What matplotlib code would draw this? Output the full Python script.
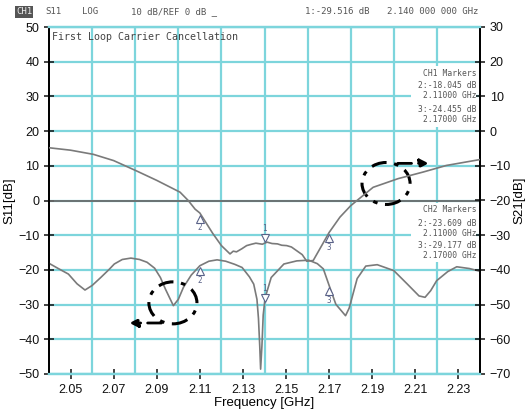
import matplotlib
matplotlib.use("Agg")
import matplotlib.pyplot as plt
import numpy as np
from matplotlib.patches import Ellipse, Rectangle
from matplotlib import transforms

# S11 trace (CH1, left axis)
F_S11 = [2.040, 2.044, 2.049, 2.053, 2.0567, 2.060, 2.064, 2.068, 2.0703, 2.074,
         2.078, 2.082, 2.0855, 2.089, 2.0917, 2.094, 2.0977, 2.100, 2.1024, 2.106,
         2.110, 2.1142, 2.118, 2.122, 2.1262, 2.1296, 2.133, 2.135, 2.1365, 2.1372,
         2.1378, 2.1382, 2.1388, 2.1394, 2.1403, 2.1431, 2.149, 2.155, 2.1605, 2.1645,
         2.1673, 2.170, 2.1731, 2.1776, 2.1793, 2.183, 2.187, 2.1923, 2.200, 2.2063,
         2.2117, 2.2145, 2.2171, 2.2199, 2.225, 2.2292, 2.235, 2.240]
S11 = [-18.1, -19.5, -21.2, -24.0, -25.8, -24.5, -22.2, -19.8, -18.3, -17.0,
       -16.6, -17.0, -17.8, -19.5, -22.2, -25.5, -30.3, -28.5, -25.0, -21.5,
       -18.8, -17.5, -17.1, -17.5, -18.4, -19.3, -22.0, -24.1, -28.5, -34.0,
       -42.0, -48.6, -42.0, -33.0, -28.0, -22.2, -18.3, -17.4, -17.2, -18.2,
       -19.7, -24.5, -29.9, -33.2, -31.0, -22.5, -18.9, -18.5, -20.2, -24.1,
       -27.5, -27.9, -26.0, -23.1, -20.5, -19.1, -19.6, -20.4]

# S21 trace (CH2, right axis)
F_S21 = [2.040, 2.050, 2.0606, 2.070, 2.0807, 2.090, 2.1008, 2.1046, 2.1078, 2.110,
         2.116, 2.120, 2.1240, 2.1255, 2.1270, 2.1295, 2.1317, 2.134, 2.1360, 2.139,
         2.1412, 2.1435, 2.1460, 2.148, 2.1503, 2.1525, 2.155, 2.1575, 2.1596, 2.1626,
         2.167, 2.170, 2.1750, 2.1800, 2.1843, 2.1904, 2.2020, 2.2136, 2.2244, 2.240]
S21 = [-4.8, -5.5, -6.7, -8.5, -11.5, -14.2, -17.6, -20.0, -22.5, -23.6,
       -29.5, -33.0, -35.4, -34.6, -34.8, -33.9, -33.0, -32.6, -32.3, -32.6,
       -32.0, -32.4, -32.5, -32.9, -33.0, -33.4, -34.5, -35.6, -37.5, -37.3,
       -32.5, -29.2, -24.8, -21.5, -19.3, -16.2, -13.7, -11.8, -9.9, -8.2]

MARKER_F = [2.11, 2.14, 2.17]
MARKER_ID = ["2", "1", "3"]
XTICKS = [2.05, 2.07, 2.09, 2.11, 2.13, 2.15, 2.17, 2.19, 2.21, 2.23]
XGRID = [2.06, 2.08, 2.10, 2.12, 2.14, 2.16, 2.18, 2.20, 2.22]
CH1_LINES = ["CH1 Markers", "2:-18.045 dB", "2.11000 GHz", "3:-24.455 dB", "2.17000 GHz"]
CH2_LINES = ["CH2 Markers", "2:-23.609 dB", "2.11000 GHz", "3:-29.177 dB", "2.17000 GHz"]

CYAN = "#7dd5dc"
TRACE = "#7a7a7a"
MK = "#5a6288"
MONO = "DejaVu Sans Mono"

plt.rcParams["font.family"] = ["Liberation Sans", "DejaVu Sans"]

W, H = 527, 416
fig = plt.figure(figsize=(W / 100, H / 100), dpi=100)
ax = fig.add_axes([49 / W, 1 - 374 / H, 431 / W, 347 / H])
ax2 = ax.twinx()

ax.set_xlim(2.04, 2.24)
ax.set_ylim(-50, 50)
ax2.set_ylim(-70, 30)
ax.set_xticks(XTICKS)
ax.set_xticklabels([f"{v:.2f}" for v in XTICKS])
ax.set_xticks(XGRID, minor=True)
ax.set_yticks(np.arange(-50, 51, 10))
ax2.set_yticks(np.arange(-70, 31, 10))
ax.grid(True, which="minor", axis="x", color=CYAN, lw=1.6)
ax.grid(True, which="major", axis="y", color=CYAN, lw=1.6)
ax.tick_params(axis="x", which="minor", length=0)
ax.tick_params(axis="both", which="major", direction="inout", length=7, width=1.1,
               labelsize=9, colors="#111")
ax2.tick_params(axis="y", direction="inout", length=7, width=1.1, labelsize=9,
                colors="#111")
for a in (ax, ax2):
    a.spines["top"].set_color(CYAN)
    a.spines["bottom"].set_color(CYAN)
    a.spines["top"].set_linewidth(1.6)
    a.spines["bottom"].set_linewidth(1.6)
    a.spines["left"].set_linewidth(1.3)
    a.spines["right"].set_linewidth(1.3)

ax.axhline(0, color="#6a6a6a", lw=1.3, zorder=2)

ax.plot(F_S11, S11, color=TRACE, lw=1.2, zorder=3)
ax2.plot(F_S21, S21, color=TRACE, lw=1.2, zorder=3)

# marker glyphs
for a, fx, fy in ((ax, F_S11, S11), (ax2, F_S21, S21)):
    for f, mid in zip(MARKER_F, MARKER_ID):
        yv = np.interp(f, fx, fy)
        if mid == "1":
            tr = transforms.offset_copy(a.transData, fig=fig, x=0, y=4, units="points")
            a.plot(f, yv, marker="v", ms=6, mfc="white", mec=MK, mew=0.8, transform=tr, zorder=5)
            a.text(f, yv, mid, color=MK, fontsize=5.5, ha="center", va="bottom",
                   transform=transforms.offset_copy(a.transData, fig=fig, x=0, y=7.5, units="points"),
                   family=MONO, zorder=5)
        else:
            tr = transforms.offset_copy(a.transData, fig=fig, x=0, y=-4, units="points")
            a.plot(f, yv, marker="^", ms=6, mfc="white", mec=MK, mew=0.8, transform=tr, zorder=5)
            a.text(f, yv, mid, color=MK, fontsize=5.5, ha="center", va="top",
                   transform=transforms.offset_copy(a.transData, fig=fig, x=0, y=-7.5, units="points"),
                   family=MONO, zorder=5)

ax.set_xlabel("Frequency [GHz]", fontsize=9.5, labelpad=1)
ax.set_ylabel("S11[dB]", fontsize=9.5, labelpad=2)
ax2.set_ylabel("S21[dB]", fontsize=9.5, labelpad=2)

# screen annotations
ax.text(2.0415, 47, "First Loop Carrier Cancellation", family=MONO, fontsize=7.2,
        color="#444", va="center", ha="left")

for (y0, y1), lines, ys in (((66, 127), CH1_LINES, [73, 86, 95, 109, 119]),
                            ((203, 262), CH2_LINES, [210, 224, 233, 245, 255])):
    ax2.add_patch(Rectangle((411 / W, 1 - y1 / H), 65 / W, (y1 - y0) / H,
                            transform=fig.transFigure, facecolor="white",
                            edgecolor="none", zorder=4))
    for s, yp in zip(lines, ys):
        fig.text(477 / W, 1 - yp / H, s, family=MONO, fontsize=5.8, color="#555",
                 ha="right", va="center", zorder=6)

dash = (0, (5, 2.5, 1.5, 2.5))
ax.add_patch(Ellipse((2.1964, 4.9), 0.0223, 12.1, fill=False, ec="black", lw=2.2,
                     ls=dash, zorder=7))
ax.add_patch(Ellipse((2.0975, -29.5), 0.0223, 12.1, fill=False, ec="black", lw=2.2,
                     ls=dash, zorder=7))
ax.annotate("", xy=(2.2175, 10.7), xytext=(2.2005, 10.7),
            arrowprops=dict(arrowstyle="-|>,head_length=0.5,head_width=0.25", color="black",
                            lw=2.0, ls=dash), zorder=7)
ax.annotate("", xy=(2.0760, -35.3), xytext=(2.0935, -35.3),
            arrowprops=dict(arrowstyle="-|>,head_length=0.5,head_width=0.25", color="black",
                            lw=2.0, ls=dash), zorder=7)

# header line of the analyzer screen
fig.text(16 / W, 1 - 12 / H, "CH1", family=MONO, fontsize=6.5, color="#eee",
         va="center", bbox=dict(facecolor="#555", edgecolor="none", pad=0.8))
hdr = [(45, "S11"), (82, "LOG"), (131, "10 dB/REF 0 dB _"),
       (305, "1:-29.516 dB"), (387, "2.140 000 000 GHz")]
for xp, s in hdr:
    fig.text(xp / W, 1 - 12 / H, s, family=MONO, fontsize=6.5, color="#555", va="center")

fig.savefig("out.png", dpi=100)
